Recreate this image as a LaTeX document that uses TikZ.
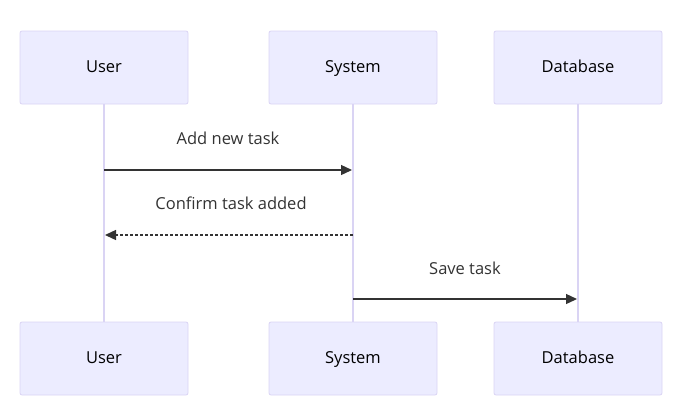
\documentclass[tikz,border=0pt]{standalone}
\usepackage{fontspec}
\setmainfont{Open Sans}
\usetikzlibrary{arrows.meta}
\definecolor{actfill}{HTML}{ECECFF}
\definecolor{actborder}{HTML}{DAD4F4}
\definecolor{msgcol}{HTML}{333333}
\begin{document}
\begin{tikzpicture}[x=1pt,y=-1pt,
  actor/.style={draw=actborder, fill=actfill, rounded corners=2pt, line width=0.8pt, minimum width=168pt, minimum height=73pt, inner sep=0pt, font=\fontsize{16.5}{19}\selectfont, text=black, text height=12pt, text depth=3pt},
  lifeline/.style={draw=actborder, line width=1.3pt},
  msg/.style={draw=msgcol, line width=1.3pt, -{Triangle[length=11pt,width=10pt]}},
  reply/.style={msg, dash pattern=on 3pt off 2pt},
  lbl/.style={font=\fontsize{16.5}{19}\selectfont, text=msgcol, inner sep=0pt}]
\useasboundingbox (0,0) rectangle (684,413);
\node[actor] (u1) at (104,67.5) {User};
\node[actor] (s1) at (353,67.5) {System};
\node[actor] (d1) at (578,67.5) {Database};
\node[actor] (u2) at (104,358.5) {User};
\node[actor] (s2) at (353,358.5) {System};
\node[actor] (d2) at (578,358.5) {Database};
\draw[lifeline] (u1) -- (u2);
\draw[lifeline] (s1) -- (s2);
\draw[lifeline] (d1) -- (d2);
\coordinate (a1) at (104,170);
\coordinate (a2) at (352,170);
\coordinate (b1) at (353,235);
\coordinate (b2) at (105,235);
\coordinate (c1) at (353,299);
\coordinate (c2) at (577,299);
\draw[msg] (a1) -- (a2);
\draw[reply] (b1) -- (b2);
\draw[msg] (c1) -- (c2);
\node[lbl] (la) at (228,138) {Add new task};
\node[lbl] (lb) at (231,203) {Confirm task added};
\node[lbl] (lc) at (465,268) {Save task};
\end{tikzpicture}
\end{document}
